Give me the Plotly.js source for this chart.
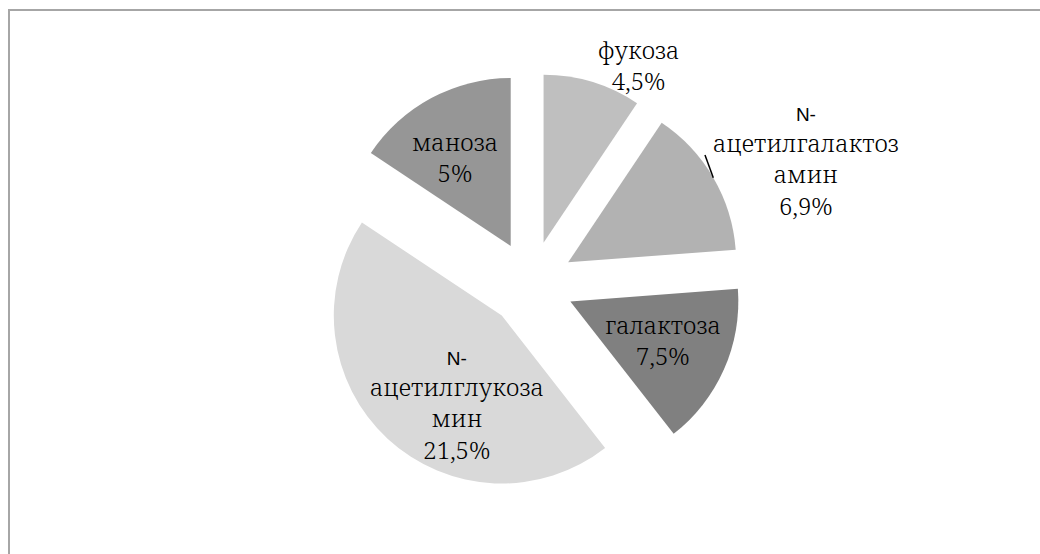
<!DOCTYPE html>
<html>
<head>
<meta charset="utf-8">
<script src="https://cdn.plot.ly/plotly-3.0.1.min.js"></script>
<style>html,body{margin:0;padding:0;background:#fff;}#chart{width:1040px;height:554px;}</style>
</head>
<body>
<div id="chart"></div>
<script>
// Categories (clockwise from 12 o'clock)
var categories = ["фукоза", "N-ацетилгалактозамин", "галактоза", "N-ацетилглюкозамин", "маноза"];
// Label text as shown on the chart (with its line breaks)
var labelLines = [
  ["фукоза"],
  ["N-", "ацетилгалактоз", "амин"],
  ["галактоза"],
  ["N-", "ацетилглукоза", "мин"],
  ["маноза"]
];
// Slice sizes
var sliceValues = [4.5, 6.9, 7.5, 21.5, 7.5];
// Percentages printed in the labels
var shownPct = ["4,5%", "6,9%", "7,5%", "21,5%", "5%"];

// ---- style / placement (not data) ----
var sliceColors = ["#bfbfbf", "#b2b2b2", "#808080", "#d9d9d9", "#969696"];
var PULL = 0.256;
// label placement relative to each slice: angle shift (deg) from bisector, distance in radii from pie centre
var labelAngleShift = [9.2, 6.5, -0.7, -11.8, -2.7];
var labelRadius = [1.455, 1.79, 0.855, 0.854, 0.881];
var leaderSlice = 1; // slice that has a leader line to its label

var SERIF = "Noto Serif, DejaVu Serif, serif";
var W = 1040, H = 554, M = { l: 0, r: 0, t: 73, b: 59 };
var DOM = { x: [0.0212, 1], y: [0, 1] };

function fmtLine(s) {
  if (/^[A-Za-z]/.test(s)) return "<span style=\"font-family:Liberation Sans;font-size:19px;font-weight:400\">" + s + "</span>";
  return s;
}
var texts = labelLines.map(function (lines, i) {
  return lines.map(fmtLine).concat([shownPct[i]]).join("<br>");
});

// same geometry Plotly uses for a pie in its domain
var pw = W - M.l - M.r, ph = H - M.t - M.b;
var boxW = pw * (DOM.x[1] - DOM.x[0]), boxH = ph * (DOM.y[1] - DOM.y[0]);
var R = Math.min(boxW, boxH) / 2 / (1 + PULL);
var CX = M.l + pw * (DOM.x[0] + DOM.x[1]) / 2;
var CY = M.t + ph * (1 - DOM.y[0]) - boxH / 2;
function toPaper(px, py) { return [(px - M.l) / pw, (M.t + ph - py) / ph]; }
function polar(angDeg, k) {
  var a = angDeg * Math.PI / 180;
  return toPaper(CX + k * R * Math.sin(a), CY - k * R * Math.cos(a));
}

var total = sliceValues.reduce(function (a, b) { return a + b; }, 0);
var cum = 0, bisectors = [];
sliceValues.forEach(function (v) {
  bisectors.push((cum + v / 2) / total * 360);
  cum += v;
});

var annotations = texts.map(function (t, i) {
  var p = polar(bisectors[i] + labelAngleShift[i], labelRadius[i]);
  return {
    xref: "paper", yref: "paper", x: p[0], y: p[1],
    xanchor: "center", yanchor: "middle", showarrow: false, align: "center",
    text: t, font: { family: SERIF, size: 24, color: "#000", weight: 300 }
  };
});

var lp1 = polar(bisectors[leaderSlice], 1 + PULL);
var lp2 = polar(bisectors[leaderSlice] - 6.3, 1 + PULL + 0.033);

var trace = {
  type: "pie",
  labels: categories,
  values: sliceValues,
  textinfo: "none",
  hoverinfo: "label+value",
  sort: false,
  direction: "clockwise",
  rotation: 0,
  pull: PULL,
  marker: { colors: sliceColors, line: { width: 0 } },
  domain: DOM,
  showlegend: false
};

var layout = {
  width: W,
  height: H,
  margin: M,
  font: { family: SERIF, size: 24, color: "#000" },
  paper_bgcolor: "#ffffff",
  plot_bgcolor: "#ffffff",
  showlegend: false,
  annotations: annotations,
  shapes: [{
    type: "rect", xref: "paper", yref: "paper", layer: "below",
    x0: 9 / W, x1: 1.2, y0: -0.3, y1: toPaper(0, 10)[1],
    line: { color: "#a6a6a6", width: 2 }, fillcolor: "rgba(0,0,0,0)"
  }, {
    type: "line", xref: "paper", yref: "paper",
    x0: lp1[0], y0: lp1[1], x1: lp2[0], y1: lp2[1],
    line: { color: "#000", width: 1.5 }
  }]
};

Plotly.newPlot("chart", [trace], layout, { displayModeBar: false, staticPlot: true });
</script>
</body>
</html>
